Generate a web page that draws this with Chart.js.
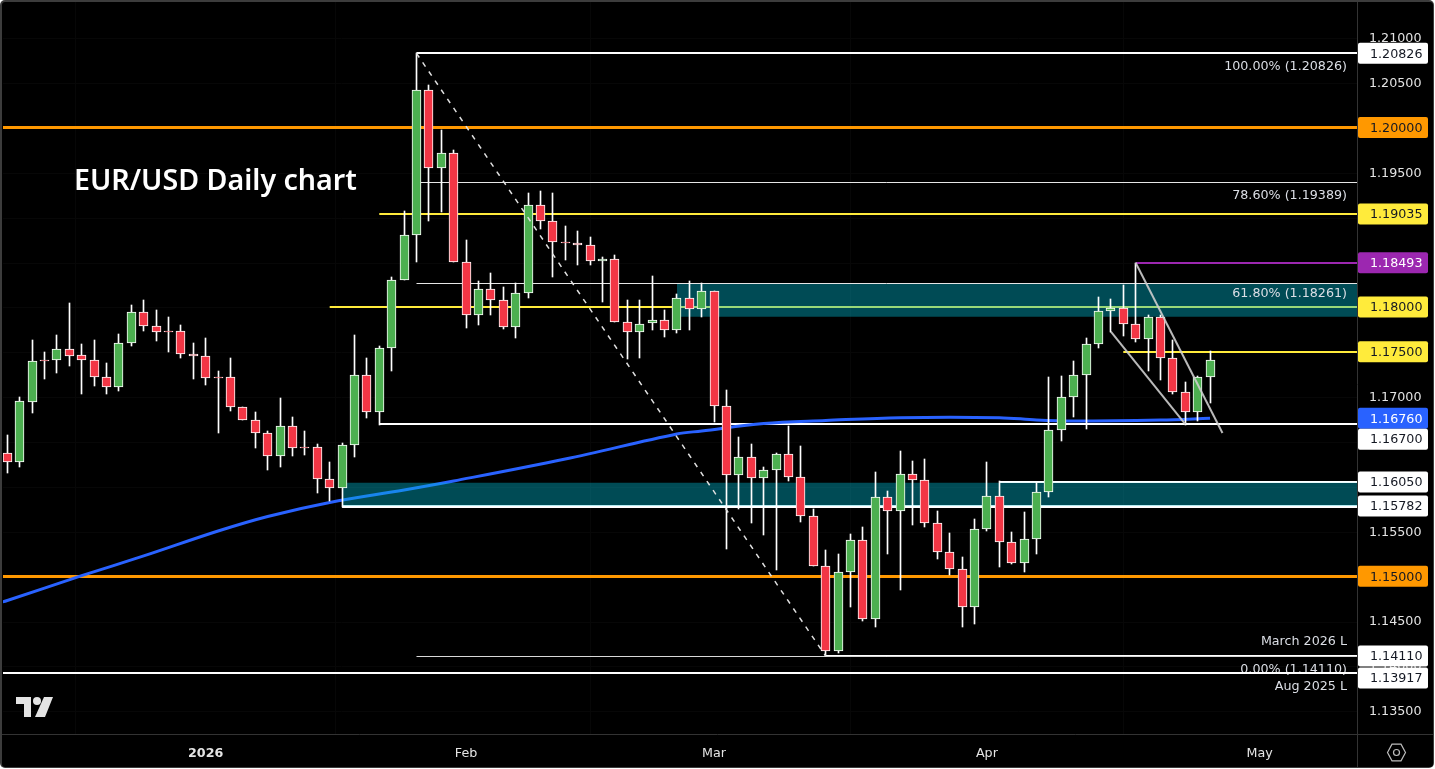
<!DOCTYPE html>
<html><head><meta charset="utf-8">
<style>html,body{margin:0;padding:0;background:#000;overflow:hidden}canvas{display:block}</style>
<script src="https://cdn.jsdelivr.net/npm/chart.js@4"></script>
</head><body>
<div style="width:1435px;height:769px"><canvas id="c" width="1435" height="769"></canvas></div>
<script>
const opens=[1.16370,1.16277,1.16945,1.17410,1.17406,1.17528,1.17462,1.17406,1.17217,1.17105,
1.17595,1.17941,1.17785,1.17733,1.17729,1.17473,1.17450,1.17221,1.17217,1.16882,
1.16737,1.16593,1.16336,1.16671,1.16440,1.16437,1.16080,1.15980,1.16459,1.17239,
1.16827,1.17540,1.18297,1.18799,1.20414,1.19545,1.19712,1.18498,1.17907,1.18197,
1.18074,1.17774,1.18152,1.19133,1.18955,1.18722,1.18709,1.18687,1.18509,1.18539,
1.17829,1.17718,1.17818,1.17852,1.17740,1.18097,1.17974,1.18175,1.16893,1.16125,
1.16325,1.16091,1.16180,1.16359,1.16102,1.15668,1.15111,1.14164,1.15044,1.15400,
1.14520,1.15879,1.15724,1.16136,1.16069,1.15590,1.15267,1.15077,1.14654,1.15523,
1.15891,1.15378,1.15151,1.15411,1.15935,1.16626,1.16993,1.17239,1.17584,1.17952,
1.17985,1.17807,1.17640,1.17885,1.17428,1.17049,1.16826,1.17216];
const closes=[1.16277,1.16949,1.17395,1.17402,1.17528,1.17458,1.17406,1.17217,1.17105,1.17595,
1.17941,1.17785,1.17718,1.17725,1.17473,1.17450,1.17205,1.17213,1.16882,1.16737,
1.16593,1.16336,1.16671,1.16425,1.16428,1.16080,1.15980,1.16459,1.17239,1.16827,
1.17540,1.18297,1.18799,1.20414,1.19545,1.19712,1.18498,1.17907,1.18197,1.18074,
1.17774,1.18152,1.19133,1.18955,1.18721,1.18712,1.18687,1.18509,1.18539,1.17829,
1.17718,1.17814,1.17852,1.17740,1.18097,1.17974,1.18175,1.16893,1.16125,1.16325,
1.16091,1.16180,1.16359,1.16102,1.15668,1.15111,1.14164,1.15044,1.15400,1.14520,
1.15879,1.15724,1.16136,1.16069,1.15590,1.15267,1.15077,1.14654,1.15523,1.15891,
1.15378,1.15151,1.15411,1.15935,1.16626,1.16993,1.17239,1.17584,1.17952,1.17985,
1.17807,1.17640,1.17885,1.17428,1.17049,1.16826,1.17216,1.17406];
const highs=[1.16574,1.16997,1.17632,1.17499,1.17688,1.18045,1.17588,1.17632,1.17372,1.17699,
1.18022,1.18078,1.17967,1.17889,1.17800,1.17599,1.17655,1.17287,1.17432,1.16882,
1.16830,1.16619,1.16986,1.16775,1.16619,1.16474,1.16273,1.16485,1.17688,1.17432,
1.17565,1.18331,1.19066,1.20826,1.20474,1.19972,1.19749,1.18747,1.18290,1.18379,
1.18223,1.18264,1.19270,1.19293,1.19270,1.18903,1.18847,1.18780,1.18553,1.18579,
1.18078,1.18078,1.18345,1.17967,1.18145,1.18290,1.18264,1.18175,1.17075,1.16552,
1.16474,1.16217,1.16373,1.16674,1.16451,1.15750,1.15293,1.15248,1.15471,1.15549,
1.16162,1.15950,1.16396,1.16284,1.16307,1.15727,1.15482,1.15215,1.15638,1.16273,
1.16061,1.15493,1.15716,1.16050,1.17220,1.17231,1.17398,1.17655,1.18111,1.18089,
1.18245,1.18493,1.17911,1.17911,1.17632,1.17164,1.17231,1.17506];
const lows=[1.16154,1.16221,1.16823,1.17202,1.17269,1.17347,1.17035,1.17124,1.17035,1.17068,
1.17569,1.17736,1.17625,1.17502,1.17436,1.17202,1.17135,1.16600,1.16845,1.16737,
1.16433,1.16188,1.16221,1.16344,1.16355,1.15931,1.15842,1.15775,1.16333,1.16767,
1.16685,1.17291,1.18297,1.18505,1.18962,1.19062,1.18498,1.17770,1.17803,1.17915,
1.17759,1.17658,1.18104,1.18869,1.18338,1.18527,1.18472,1.18472,1.18060,1.17829,
1.17424,1.17436,1.17748,1.17670,1.17714,1.17748,1.17892,1.16722,1.15307,1.15753,
1.15597,1.15464,1.15074,1.16065,1.15608,1.15111,1.14110,1.14149,1.14661,1.14505,
1.14438,1.15252,1.14851,1.15575,1.15553,1.15196,1.15010,1.14438,1.14472,1.15508,
1.15100,1.15140,1.15051,1.15252,1.15887,1.16511,1.16778,1.16644,1.17547,1.17725,
1.17681,1.17614,1.17291,1.17190,1.17034,1.16681,1.16733,1.16934];

const maBars=[-1,0,6,11,17,21,26,32,36,45,54,56,61,66,72,80,83,86,93,97];
const maValues=[1.14690,1.14730,1.15006,1.15226,1.15504,1.15666,1.15822,1.15961,1.16061,1.16306,1.16585,1.16618,1.16702,1.16735,1.16767,1.16767,1.16741,1.16730,1.16741,1.16760];

const levelValues=[1.20826,1.20000,1.19389,1.19035,1.18493,1.18261,1.18000,1.17500,1.16700,1.16050,1.15782,1.15000,1.14110,1.14110,1.13917];
const levelStarts=[33,null,33,30,91,33,26,90,30,80,27,null,33,66,null];
const levelColors=['#ffffff','#ff9800','#e6e6e6','#ffeb3b','#9c27b0','#e6e6e6','#ffeb3b','#ffeb3b','#ffffff','#ffffff','#ffffff','#ff9800','#d8d8d8','#ffffff','#ffffff'];
const levelWidths=[2,3,1,2,2,1,2,2,2,2,3,3,1,2,2];

const zoneTops=[1.18255,1.16042];
const zoneBottoms=[1.17892,1.15785];
const zoneStarts=[54,27];

const fibBars=[33,66];
const fibPrices=[1.20826,1.14110];
const wedgeUpperBars=[91,98];
const wedgeUpperPrices=[1.18493,1.16596];
const wedgeLowerBars=[89,95];
const wedgeLowerPrices=[1.17725,1.16696];

const yTicks=[1.135,1.14,1.145,1.15,1.155,1.16,1.165,1.17,1.175,1.18,1.185,1.19,1.195,1.2,1.205,1.21];
const monthBars=[16,37,57,79,101];
const monthLabels=['2026','Feb','Mar','Apr','May'];

const tagValues=[1.20826,1.20000,1.19035,1.18493,1.18000,1.17500,1.16760,1.16700,1.16050,1.15782,1.15000,1.14110,1.13917];
const tagShift=[0,0,0,0,0,0,0,15.5,0,0,0,0,4.5];
const tagColors=['#ffffff','#ff9800','#ffeb3b','#9c27b0','#ffeb3b','#ffeb3b','#2962ff','#ffffff','#ffffff','#ffffff','#ff9800','#ffffff','#ffffff'];
const tagText=['#131722','#131722','#131722','#ffffff','#131722','#131722','#ffffff','#131722','#131722','#131722','#131722','#131722','#131722'];

const noteTexts=['100.00% (1.20826)','78.60% (1.19389)','61.80% (1.18261)','March 2026 L','Aug 2025 L'];
const notePrices=[1.20680,1.19242,1.18147,1.14270,1.13768];
const zeroNote='0.00% (1.14110)';
const zeroNotePrice=1.13957;

const X_MIN=-0.347, X_MAX=108.85;
const Y_MIN=1.13242, Y_MAX=1.21398;
const GREEN='#4caf50', RED='#f23645';
const FONT='"DejaVu Sans"';

const bars=opens.map((_,i)=>i);
const datasets=[];
levelValues.forEach((v,i)=>{
  const s=levelStarts[i]===null?X_MIN:levelStarts[i];
  datasets.push({type:'line',data:[{x:s,y:v},{x:X_MAX,y:v}],borderColor:levelColors[i],borderWidth:levelWidths[i],pointRadius:0,order:70,snap:levelWidths[i]});
});
datasets.push({type:'line',data:maBars.map((b,i)=>({x:b,y:maValues[i]})),borderColor:'#2962ff',borderWidth:3,pointRadius:0,tension:0.35,order:60});
zoneTops.forEach((t,i)=>{
  datasets.push({type:'line',data:[{x:zoneStarts[i],y:t},{x:X_MAX,y:t}],borderWidth:0,borderColor:'transparent',pointRadius:0,fill:{value:zoneBottoms[i]},backgroundColor:'rgba(0,188,212,0.4)',order:50});
});
datasets.push({type:'bar',grouped:false,barThickness:1,data:bars.map(i=>({x:i,y:[lows[i],highs[i]]})),backgroundColor:'#ffffff',borderWidth:0,order:20,isCandle:true});
datasets.push({type:'bar',grouped:false,barThickness:9,data:bars.map(i=>({x:i,y:[opens[i],closes[i]]})),
  backgroundColor:bars.map(i=>closes[i]>opens[i]?GREEN:RED),borderColor:'#ffffff',borderWidth:1,borderSkipped:false,order:10,isCandle:true});
datasets.push({type:'line',data:fibBars.map((b,i)=>({x:b,y:fibPrices[i]})),borderColor:'#e0e0e0',borderWidth:1.5,borderDash:[5,6],pointRadius:0,order:6});
datasets.push({type:'line',data:wedgeUpperBars.map((b,i)=>({x:b,y:wedgeUpperPrices[i]})),borderColor:'rgba(205,205,205,0.9)',borderWidth:2,pointRadius:0,order:5});
datasets.push({type:'line',data:wedgeLowerBars.map((b,i)=>({x:b,y:wedgeLowerPrices[i]})),borderColor:'rgba(205,205,205,0.9)',borderWidth:2,pointRadius:0,order:5});

function rr(ctx,x,y,w,h,r){ctx.beginPath();ctx.roundRect(x,y,w,h,r);}
function noPad(s){s.paddingTop=0;s.paddingBottom=0;s.paddingLeft=0;s.paddingRight=0;if(s._margins){s._margins.top=0;s._margins.bottom=0;s._margins.left=0;s._margins.right=0;}}

const painter={
  id:'painter',
  beforeDraw(chart){
    const c=chart.ctx,W=chart.width,H=chart.height;
    c.save();
    c.fillStyle='#ffffff';c.fillRect(0,0,W,H);
    c.fillStyle='#3c3c3c';rr(c,0,0,1434,768,5);c.fill();
    c.fillStyle='#000000';rr(c,2,2,1431,765,3);c.fill();
    c.restore();
  },
  beforeDatasetsDraw(chart){
    chart.data.datasets.forEach((d,i)=>{
      const m=chart.getDatasetMeta(i);
      if(d.isCandle){
        m.data.forEach(el=>{
          el.x=Math.floor(el.x)+0.5;
          let a=Math.round(el.y),b=Math.round(el.base);
          if(a===b)b=a+1;
          el.y=a;el.base=b;el.height=b-a;
        });
      }else if(d.snap){
        const off=d.snap%2?0.5:0;
        m.data.forEach(p=>{p.y=Math.round(p.y-off)+off;});
      }
    });
    const c=chart.ctx,y=chart.scales.y;
    c.save();
    c.font='12.7px '+FONT;c.fillStyle='#dcdfe6';c.textAlign='right';c.textBaseline='middle';
    c.fillText(zeroNote,1347,y.getPixelForValue(zeroNotePrice));
    c.restore();
  },
  afterDatasetsDraw(chart){
    const c=chart.ctx,y=chart.scales.y;
    c.save();
    c.font='12.7px '+FONT;c.fillStyle='#dcdfe6';c.textAlign='right';c.textBaseline='middle';
    noteTexts.forEach((t,i)=>c.fillText(t,1347,y.getPixelForValue(notePrices[i])));
    c.font='600 28.6px "Noto Sans"';c.fillStyle='#ffffff';c.textAlign='left';
    c.fillText('EUR/USD Daily chart',74,181.5);
    // watermark logo
    c.fillStyle='#e4e4e4';
    c.fillRect(16,697,15,7);c.fillRect(24,697,7,20);
    c.beginPath();c.arc(37,701,4,0,Math.PI*2);c.fill();
    c.beginPath();c.moveTo(44,697);c.lineTo(53,697);c.lineTo(45,717);c.lineTo(35,717);c.closePath();c.fill();
    c.restore();
  },
  afterDraw(chart){
    const c=chart.ctx,y=chart.scales.y;
    c.save();
    c.strokeStyle='#333333';c.lineWidth=1;
    c.beginPath();c.moveTo(1357.5,2);c.lineTo(1357.5,767);c.moveTo(2,734.5);c.lineTo(1433,734.5);c.stroke();
    c.font='12.7px '+FONT;c.textBaseline='middle';c.textAlign='left';
    tagValues.forEach((v,i)=>{
      const p=y.getPixelForValue(v)+tagShift[i];
      c.fillStyle=tagColors[i];rr(c,1358,p-10.5,70,21,2);c.fill();
      c.fillStyle=tagText[i];c.fillText(v.toFixed(5),1370,p+1);
    });
    // settings icon
    const hx=1396.5,hy=752.5,rx=9,ry=8.3;
    c.strokeStyle='#bdbdbd';c.lineWidth=1.2;
    c.beginPath();c.moveTo(hx-rx,hy);c.lineTo(hx-rx/2,hy-ry);c.lineTo(hx+rx/2,hy-ry);c.lineTo(hx+rx,hy);c.lineTo(hx+rx/2,hy+ry);c.lineTo(hx-rx/2,hy+ry);c.closePath();c.stroke();
    c.beginPath();c.arc(hx,hy,3,0,Math.PI*2);c.stroke();
    c.restore();
  }
};

new Chart(document.getElementById('c'),{
  data:{datasets},
  plugins:[painter],
  options:{
    responsive:false,animation:false,
    layout:{autoPadding:false,padding:{left:3,top:2,right:1,bottom:2}},
    plugins:{legend:{display:false},tooltip:{enabled:false}},
    scales:{
      x:{type:'linear',offset:false,min:X_MIN,max:X_MAX,
        afterBuildTicks(s){s.ticks=monthBars.map(v=>({value:v}));},
        afterFit(s){s.height=33;noPad(s);},
        border:{display:false},
        grid:{color:'#070707',drawTicks:false},
        ticks:{autoSkip:false,maxRotation:0,padding:12,color:'#e4e4e4',
          font:(ctx)=>({family:FONT,size:12.7,weight:(ctx.tick&&ctx.tick.value===16)?'bold':'normal'}),
          callback:(v)=>monthLabels[monthBars.indexOf(v)]}
      },
      y:{type:'linear',position:'right',min:Y_MIN,max:Y_MAX,
        afterBuildTicks(s){s.ticks=yTicks.map(v=>({value:v}));},
        afterFit(s){
          s.width=77;noPad(s);
          if(!s._nudged){const f=s.getPixelForTick.bind(s);s.getPixelForTick=i=>f(i)+1;s._nudged=true;}
        },
        border:{display:false},
        grid:{color:'#070707',drawTicks:false},
        ticks:{autoSkip:false,padding:12,color:'#e4e4e4',font:{family:FONT,size:12.7},
          callback:(v)=>Number(v).toFixed(5)}
      }
    }
  }
});
</script>
</body></html>
